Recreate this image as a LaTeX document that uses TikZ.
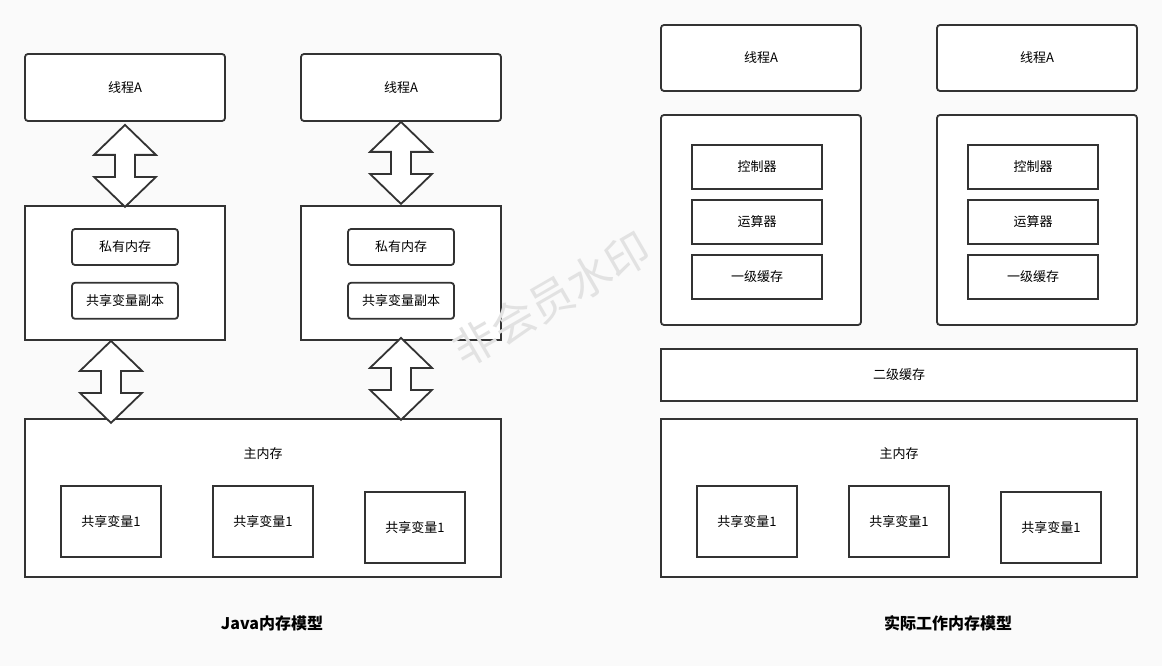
\documentclass[tikz,border=0pt]{standalone}
\usepackage{fontspec}
\setmainfont{Noto Sans CJK SC}
\usetikzlibrary{positioning,calc}
\definecolor{edge}{HTML}{333333}
\definecolor{paper}{HTML}{FAFAFA}
\definecolor{mark}{HTML}{E2E2E2}

% hollow up-down arrow, #1 = top tip
\newcommand{\updown}[1]{%
  \draw[bigarrow] (#1) -- ++(31,30) -- ++(-21,0) -- ++(0,22) -- ++(21,0)
    -- ++(-31,30) -- ++(-31,-30) -- ++(21,0) -- ++(0,-22) -- ++(-21,0) -- cycle;}

\begin{document}
\begin{tikzpicture}[%
  x=1pt, y=-1pt,
  font=\fontsize{13}{15}\selectfont,
  box/.style={rectangle, draw=edge, fill=white, line width=1.8pt, inner sep=0pt},
  rbox/.style={box, rounded corners=3pt},
  bigarrow/.style={draw=edge, fill=white, line width=1.8pt, line join=miter},
  title/.style={font=\fontsize{16}{18}\selectfont\bfseries},
  ]
  \fill[paper] (0,0) rectangle (1162,666);
  \useasboundingbox (0,0) rectangle (1162,666);

  % Java memory model
  \node[rbox, minimum width=200pt, minimum height=67pt] (thrL) at (125,87.5) {线程A};
  \node[rbox, minimum width=200pt, minimum height=67pt] (thrR) at (401,87.5) {线程A};
  \node[box, minimum width=200pt, minimum height=134pt] (privL) at (125,273) {};
  \node[box, minimum width=200pt, minimum height=134pt] (privR) at (401,273) {};
  \node[rbox, minimum width=106pt, minimum height=36pt] (ownL) at (125,247) {私有内存};
  \node[rbox, minimum width=106pt, minimum height=36pt, below=16pt of ownL] (copyL) {共享变量副本};
  \node[rbox, minimum width=106pt, minimum height=36pt] (ownR) at (401,247) {私有内存};
  \node[rbox, minimum width=106pt, minimum height=36pt, below=16pt of ownR] (copyR) {共享变量副本};
  \node[box, minimum width=476pt, minimum height=158pt] (mainL) at (263,498) {};
  \node (mainLlab) at (263,454) {主内存};
  \node[box, minimum width=100pt, minimum height=71pt] (varL1) at (111,521.5) {共享变量1};
  \node[box, minimum width=100pt, minimum height=71pt] (varL2) at (263,521.5) {共享变量1};
  \node[box, minimum width=100pt, minimum height=71pt] (varL3) at (415,527.5) {共享变量1};
  \node[title] (titleL) at (272,623) {Java内存模型};

  \updown{$(thrL.south)+(0,3)$}
  \updown{thrR.south}
  \updown{$(privL.south)+(-14,0)$}
  \updown{$(privR.south)+(0,-3)$}

  % real working memory model
  \node[rbox, minimum width=200pt, minimum height=66pt] (thrA) at (761,58) {线程A};
  \node[rbox, minimum width=200pt, minimum height=66pt] (thrB) at (1037,58) {线程A};
  \node[rbox, minimum width=200pt, minimum height=210pt] (cpuA) at (761,220) {};
  \node[rbox, minimum width=200pt, minimum height=210pt] (cpuB) at (1037,220) {};
  \node[box, minimum width=130pt, minimum height=44pt] (ctlA) at (757,167) {控制器};
  \node[box, minimum width=130pt, minimum height=44pt, below=9pt of ctlA] (aluA) {运算器};
  \node[box, minimum width=130pt, minimum height=44pt, below=9pt of aluA] (l1A) {一级缓存};
  \node[box, minimum width=130pt, minimum height=44pt] (ctlB) at (1033,167) {控制器};
  \node[box, minimum width=130pt, minimum height=44pt, below=9pt of ctlB] (aluB) {运算器};
  \node[box, minimum width=130pt, minimum height=44pt, below=9pt of aluB] (l1B) {一级缓存};
  \node[box, minimum width=476pt, minimum height=52pt] (l2) at (899,375) {二级缓存};
  \node[box, minimum width=476pt, minimum height=158pt] (mainR) at (899,498) {};
  \node (mainRlab) at (899,454) {主内存};
  \node[box, minimum width=100pt, minimum height=71pt] (varR1) at (747,521.5) {共享变量1};
  \node[box, minimum width=100pt, minimum height=71pt] (varR2) at (899,521.5) {共享变量1};
  \node[box, minimum width=100pt, minimum height=71pt] (varR3) at (1051,527.5) {共享变量1};
  \node[title] (titleR) at (948,623) {实际工作内存模型};

  \node[text=mark, rotate=30, font=\fontsize{44}{44}\selectfont] (wmark) at (551,299) {非会员水印};
\end{tikzpicture}
\end{document}
